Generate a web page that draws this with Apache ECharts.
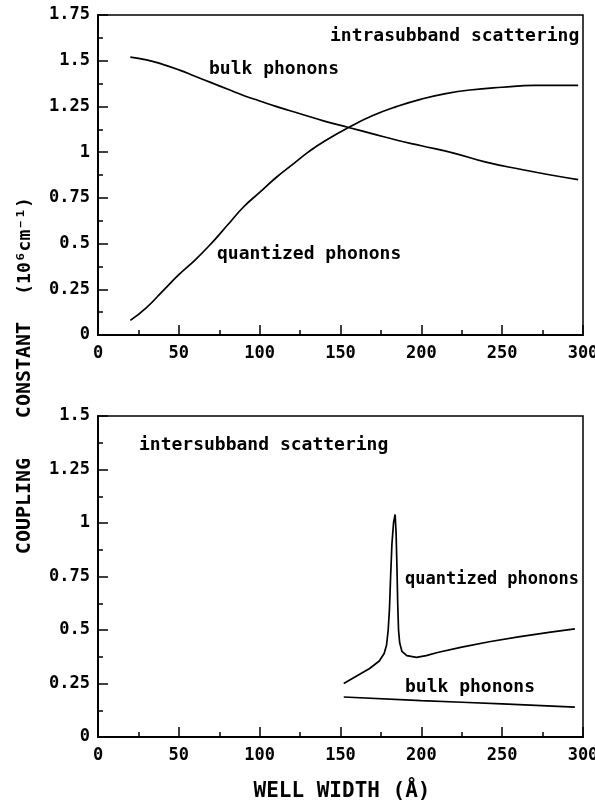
<!DOCTYPE html>
<html>
<head>
<meta charset="utf-8">
<script src="https://cdn.jsdelivr.net/npm/echarts@6/dist/echarts.min.js"></script>
<style>
html,body{margin:0;padding:0;background:#fff;overflow:hidden;}
#chart{width:595px;height:807px;}
</style>
</head>
<body>
<div id="chart"></div>
<script>
// Top panel: intrasubband scattering
var topBulkX = [20, 30, 40, 50, 60, 70, 80, 90, 100, 110, 125, 140, 155, 170, 185, 200, 220, 240, 262, 280, 297];
var topBulkY = [1.52, 1.505, 1.48, 1.45, 1.415, 1.38, 1.345, 1.31, 1.28, 1.25, 1.21, 1.17, 1.135, 1.10, 1.065, 1.035, 0.995, 0.945, 0.905, 0.875, 0.85];
var topQuantX = [20, 30, 40, 50, 60, 70, 80, 90, 100, 110, 120, 130, 140, 155, 170, 185, 200, 215, 230, 250, 270, 297];
var topQuantY = [0.08, 0.15, 0.24, 0.33, 0.41, 0.50, 0.60, 0.70, 0.78, 0.86, 0.93, 1.00, 1.06, 1.135, 1.20, 1.25, 1.29, 1.32, 1.34, 1.355, 1.365, 1.365];
// Bottom panel: intersubband scattering
var botQuantX = [152, 160, 168, 174, 177, 178.5, 179.5, 180.3, 181, 181.8, 182.8, 183.8, 184.4, 184.9, 185.4, 185.9, 186.6, 188, 191, 197, 203, 210, 225, 242, 260, 280, 295];
var botQuantY = [0.25, 0.285, 0.32, 0.355, 0.39, 0.43, 0.5, 0.6, 0.75, 0.9, 1.0, 1.04, 0.95, 0.8, 0.62, 0.5, 0.44, 0.40, 0.38, 0.372, 0.38, 0.395, 0.42, 0.445, 0.468, 0.49, 0.505];
var botBulkX = [152, 200, 250, 295];
var botBulkY = [0.187, 0.17, 0.155, 0.14];

var labels = {
  intra: 'intrasubband scattering',
  inter: 'intersubband scattering',
  bulk: 'bulk phonons',
  quant: 'quantized phonons',
  yName1: 'COUPLING',
  yName2: 'CONSTANT',
  yUnit: '(10\u2076cm\u207B\u00B9)',
  xName: 'WELL WIDTH (\u00C5)'
};

function pairs(xs, ys) { return xs.map(function (x, i) { return [x, ys[i]]; }); }

var FONT = '"DejaVu Sans Mono", "Liberation Mono", monospace';

function xAxisCfg(gi) {
  return {
    gridIndex: gi, type: 'value', min: 0, max: 300, interval: 50,
    axisLine: { lineStyle: { color: '#000', width: 2 } },
    axisTick: { inside: true, length: 10, lineStyle: { color: '#000', width: 1.5 } },
    minorTick: { show: true, splitNumber: 2, length: 5, lineStyle: { color: '#000', width: 1.5 } },
    axisLabel: { color: '#000', fontFamily: FONT, fontSize: 17, fontWeight: 'bold', margin: 10 },
    splitLine: { show: false }
  };
}
function yAxisCfg(gi, max) {
  return {
    gridIndex: gi, type: 'value', min: 0, max: max, interval: 0.25,
    axisLine: { lineStyle: { color: '#000', width: 2 } },
    axisTick: { inside: true, length: 10, lineStyle: { color: '#000', width: 1.5 } },
    minorTick: { show: true, splitNumber: 2, length: 5, lineStyle: { color: '#000', width: 1.5 } },
    axisLabel: { color: '#000', fontFamily: FONT, fontSize: 17, fontWeight: 'bold', margin: 8 },
    splitLine: { show: false }
  };
}
function lineSeries(xi, data, smooth) {
  return {
    type: 'line', xAxisIndex: xi, yAxisIndex: xi, data: data,
    smooth: smooth, showSymbol: false, symbol: 'none', silent: true,
    lineStyle: { color: '#000', width: 1.7 }
  };
}
function txt(text, x, y, size, rot) {
  return {
    type: 'text', x: x, y: y, rotation: rot || 0, silent: true,
    style: { text: text, x: 0, y: 0, font: 'bold ' + size + 'px ' + FONT, fill: '#000',
      textAlign: rot ? 'center' : 'left', textVerticalAlign: 'middle' }
  };
}

var chart = echarts.init(document.getElementById('chart'), null, { renderer: 'canvas' });
chart.setOption({
  animation: false,
  backgroundColor: '#fff',
  grid: [
    { left: 98, top: 15, width: 485, height: 320, show: true, borderColor: '#000', borderWidth: 1.5, containLabel: false, outerBoundsMode: 'none' },
    { left: 98, top: 416, width: 485, height: 321, show: true, borderColor: '#000', borderWidth: 1.5, containLabel: false, outerBoundsMode: 'none' }
  ],
  xAxis: [xAxisCfg(0), xAxisCfg(1)],
  yAxis: [yAxisCfg(0, 1.75), yAxisCfg(1, 1.5)],
  series: [
    lineSeries(0, pairs(topBulkX, topBulkY), true),
    lineSeries(0, pairs(topQuantX, topQuantY), true),
    lineSeries(1, pairs(botQuantX, botQuantY), false),
    lineSeries(1, pairs(botBulkX, botBulkY), true)
  ],
  graphic: [
    txt(labels.intra, 330, 36, 18),
    txt(labels.bulk, 209, 69, 18),
    txt(labels.quant, 217, 254, 18),
    txt(labels.inter, 139, 445, 18),
    txt(labels.quant, 405, 580, 17),
    txt(labels.bulk, 405, 687, 18),
    txt(labels.yName1, 25, 506, 20, Math.PI / 2),
    txt(labels.yName2, 25, 370, 20, Math.PI / 2),
    txt(labels.yUnit, 25, 246, 18, Math.PI / 2),
    { type: 'text', x: 342, y: 792, silent: true,
      style: { text: labels.xName, x: 0, y: 0, font: 'bold 21px ' + FONT, fill: '#000', textAlign: 'center', textVerticalAlign: 'middle' } }
  ]
});
</script>
</body>
</html>
